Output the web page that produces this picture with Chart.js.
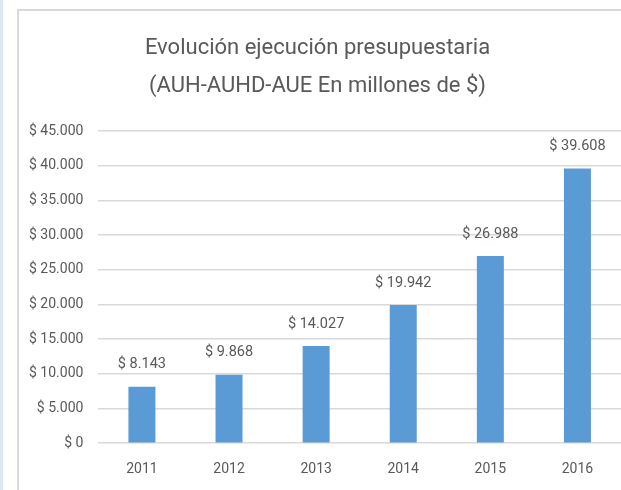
<!DOCTYPE html>
<html>
<head>
<meta charset="utf-8">
<script src="https://cdn.jsdelivr.net/npm/chart.js@4"></script>
<style>
  html, body { margin: 0; padding: 0; background: #fff; overflow: hidden; }
  body { width: 621px; height: 490px; position: relative; }
  #strip { position: absolute; left: 0; top: 0; width: 3px; height: 490px; background: #dde8f5; }
  #frame { position: absolute; left: 17px; top: 9px; width: 620px; height: 490px;
           border-left: 2px solid #d9d9d9; border-top: 2px solid #d9d9d9; }
  #wrap { position: absolute; left: 14px; top: 11px; width: 607px; height: 485px; }
</style>
</head>
<body>
<div id="strip"></div>
<div id="frame"></div>
<div id="wrap"><canvas id="chart"></canvas></div>
<script>
const years = ['2011', '2012', '2013', '2014', '2015', '2016'];
const amounts = [8143, 9868, 14027, 19942, 26988, 39608];
const titleLines = ['Evolución ejecución presupuestaria', '(AUH-AUHD-AUE En millones de $)'];

const fontFamily = 'Roboto, sans-serif';
const gray = '#595959';

function money(v) {
    return '$ ' + Math.round(v).toString().replace(/\B(?=(\d{3})+(?!\d))/g, '.');
}

// etiquetas encima de cada barra
const valueLabels = {
    id: 'valueLabels',
    afterDatasetsDraw(chart) {
        const ctx = chart.ctx;
        ctx.save();
        ctx.font = '14.5px ' + fontFamily;
        ctx.fillStyle = gray;
        ctx.textAlign = 'center';
        ctx.textBaseline = 'middle';
        chart.getDatasetMeta(0).data.forEach((bar, i) => {
            ctx.fillText(money(amounts[i]), bar.x, bar.y - 22);
        });
        ctx.restore();
    }
};

const ctx = document.getElementById('chart').getContext('2d');
new Chart(ctx, {
    type: 'bar',
    data: {
        labels: years,
        datasets: [{
            label: 'Ejecución',
            data: amounts,
            backgroundColor: '#5b9bd5',
            categoryPercentage: 1,
            barPercentage: 0.31
        }]
    },
    options: {
        responsive: true,
        maintainAspectRatio: false,
        animation: false,
        layout: { padding: { left: 0, right: 0, top: 0, bottom: 0 } },
        plugins: {
            legend: { display: false },
            tooltip: { enabled: false },
            title: {
                display: true,
                text: titleLines,
                color: gray,
                font: { family: fontFamily, size: 22, weight: 'normal', lineHeight: 1.73 },
                padding: { top: 18, bottom: 26 }
            }
        },
        scales: {
            x: {
                grid: { display: false, drawTicks: false },
                border: { display: false },
                ticks: { color: gray, font: { family: fontFamily, size: 14 }, padding: 18 }
            },
            y: {
                min: 0,
                max: 45000,
                border: { display: false },
                grid: { color: '#d9d9d9', lineWidth: 1.5, drawTicks: false },
                ticks: {
                    stepSize: 5000,
                    color: gray,
                    padding: 15,
                    font: { family: fontFamily, size: 14 },
                    callback: v => money(v)
                }
            }
        }
    },
    plugins: [valueLabels]
});
</script>
</body>
</html>
